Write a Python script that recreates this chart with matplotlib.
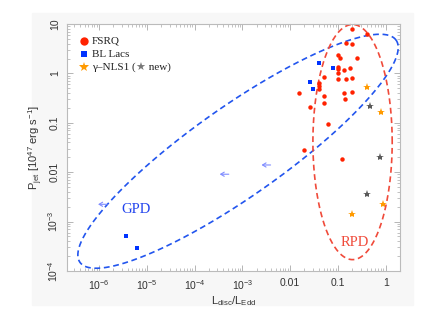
import matplotlib
matplotlib.use("Agg")
import matplotlib.pyplot as plt
from matplotlib.patches import Rectangle
import numpy as np

# FSRQ (red circles)
fsrq_x = [0.2, 0.4, 0.15, 0.2, 0.1, 0.11, 0.255, 0.1, 0.1, 0.1, 0.134, 0.18, 0.1, 0.15, 0.2,
          0.051, 0.041, 0.041, 0.041, 0.0153, 0.134, 0.2, 0.051, 0.051, 0.143, 0.0257, 0.061,
          0.0198, 0.12]
fsrq_y = [7.8, 6.2, 4.05, 4.0, 2.35, 2.08, 2.08, 1.36, 1.2, 1.03, 1.17, 1.26, 0.78, 0.78, 0.82,
          0.855, 0.627, 0.553, 0.49, 0.405, 0.405, 0.42, 0.347, 0.254, 0.306, 0.21, 0.0925,
          0.0284, 0.0186]

# BL Lacs (blue squares)
bll_x = [0.041, 0.0257, 0.0306, 0.080, 3.7e-6, 6.1e-6]
bll_y = [1.64, 0.66, 0.474, 1.30, 5.05e-4, 2.97e-4]

# gamma-NLS1 (orange) and new ones (gray)
nls1_x = [0.4, 0.80, 0.89, 0.2]
nls1_y = [0.537, 0.162, 2.3e-3, 1.45e-3]
new_x = [0.47, 0.76, 0.4]
new_y = [0.218, 0.0201, 3.7e-3]

# BL Lac upper limits on L_disc/L_Edd (arrows pointing left)
lim_x = [1.48e-6, 5.2e-4, 3.9e-3]
lim_y = [2.24e-3, 9.1e-3, 0.014]

# ellipses in log10 units: centre x, centre y, semi-axes, angle (deg)
gpd = (-3.09, -1.576, 4.04, 0.94, 35.0)
rpd = (-0.693, -1.39, 0.83, 2.38, 0.0)

x_ticks = [1e-6, 1e-5, 1e-4, 1e-3, 0.01, 0.1, 1]
x_labels = ["10$^{-6}$", "10$^{-5}$", "10$^{-4}$", "10$^{-3}$", "0.01", "0.1", "1"]
y_ticks = [1e-4, 1e-3, 0.01, 0.1, 1, 10]
y_labels = ["10$^{-4}$", "10$^{-3}$", "0.01", "0.1", "1", "10"]

RED = "#ff2200"
BLUE = "#0033ff"
ORANGE = "#ff9a00"
GRAY = "#5a5a5a"

plt.rcParams["font.family"] = ["Liberation Sans", "DejaVu Sans"]
plt.rcParams["mathtext.fontset"] = "custom"
plt.rcParams["mathtext.rm"] = "Liberation Sans"
plt.rcParams["mathtext.it"] = "Liberation Sans"

fig = plt.figure(figsize=(4.45, 3.15), dpi=100)
fig.patches.append(Rectangle((32 / 445, 1 - 305 / 315), 381 / 445, 292 / 315,
                             transform=fig.transFigure, color="#f7f7f7", zorder=-5))
ax = fig.add_axes([67 / 445, 1 - 271 / 315, 333 / 445, 247 / 315])
ax.set_xscale("log")
ax.set_yscale("log")
ax.set_xlim(10 ** -6.67, 10 ** 0.3)
ax.set_ylim(1e-4, 10)


def ellipse(cx, cy, a, b, ang, yfac=0.97):
    t = np.linspace(0, 2 * np.pi, 400)
    th = np.radians(ang)
    xl = cx + a * np.cos(t) * np.cos(th) - b * np.sin(t) * np.sin(th)
    yl = cy + (a * np.cos(t) * np.sin(th) + b * np.sin(t) * np.cos(th)) * yfac
    return 10 ** xl, 10 ** yl


ex, ey = ellipse(*gpd)
ax.plot(ex, ey, color="#2255ee", lw=1.2, ls=(0, (3.5, 2.2)), zorder=2)
ex, ey = ellipse(*rpd, yfac=1.0)
ax.plot(ex, ey, color="#f04a3a", lw=1.2, ls=(0, (3.5, 2.2)), zorder=2, clip_on=False)

ax.plot(fsrq_x, fsrq_y, "o", color=RED, ms=3.2, mew=0, zorder=4)
ax.plot(bll_x, bll_y, "s", color=BLUE, ms=2.8, mew=0, zorder=4)
ax.plot(nls1_x, nls1_y, "*", color=ORANGE, ms=6, mew=0, zorder=4)
ax.plot(new_x, new_y, "*", color=GRAY, ms=6, mew=0, zorder=4)

for x, y in zip(lim_x, lim_y):
    ax.annotate("", xy=(x / 10 ** 0.19, y), xytext=(x, y),
                arrowprops=dict(arrowstyle="->,head_length=0.25,head_width=0.15",
                                color="#7f8cff", lw=0.8, shrinkA=0, shrinkB=0))

serif = ["Liberation Serif", "DejaVu Serif"]
ax.text(10 ** -5.23, 10 ** -2.76, "GPD", color="#2244ee", fontsize=10.5,
        family=serif, ha="center", va="center")
ax.text(10 ** -0.638, 10 ** -3.43, "RPD", color="#f04a3a", fontsize=10.5,
        family=serif, ha="center", va="center")

# legend drawn by hand
lx, ly0, dy = 0.05, 0.93, 0.053
ax.plot([lx], [ly0], "o", color=RED, ms=6, mew=0, transform=ax.transAxes, clip_on=False)
ax.plot([lx], [ly0 - dy], "s", color=BLUE, ms=4.2, mew=0, transform=ax.transAxes)
ax.plot([lx], [ly0 - 2 * dy], "*", color=ORANGE, ms=7, mew=0, transform=ax.transAxes)
tx = lx + 0.025
ax.text(tx, ly0, "FSRQ", transform=ax.transAxes, family=serif, fontsize=8,
        va="center", color="#222222")
ax.text(tx, ly0 - dy, "BL Lacs", transform=ax.transAxes, family=serif, fontsize=8,
        va="center", color="#222222")
t1 = ax.text(tx, ly0 - 2 * dy, "γ–NLS1 (", transform=ax.transAxes, family=serif,
             fontsize=8, va="center", color="#222222")
t2 = ax.annotate("★", xy=(1, 0.5), xycoords=t1, va="center", ha="left", fontsize=8,
                 color="#777777", family=["DejaVu Sans"])
ax.annotate(" new)", xy=(1, 0.5), xycoords=t2, va="center", ha="left", fontsize=8,
            family=serif, color="#222222")

ax.set_xticks(x_ticks)
ax.set_xticklabels(x_labels)
ax.set_yticks(y_ticks)
ax.set_yticklabels(y_labels, rotation=90, va="center")
ax.tick_params(which="both", direction="in", top=True, right=True, color="#aaaaaa",
               labelsize=7.5, labelcolor="#333333")
ax.tick_params(which="major", length=4, width=0.6)
ax.tick_params(which="minor", length=2, width=0.5)
ax.tick_params(axis="x", pad=5)
ax.tick_params(axis="y", pad=5)
for s in ax.spines.values():
    s.set_color("#bbbbbb")
    s.set_linewidth(0.8)

ax.set_xlabel("L$_{\\rm disc}$/L$_{\\rm Edd}$", fontsize=8, color="#333333", labelpad=2)
ax.set_ylabel("P$_{\\rm jet}$ [10$^{47}$ erg s$^{-1}$]", fontsize=8, color="#333333",
              labelpad=1)

fig.savefig("out.png", dpi=100)
